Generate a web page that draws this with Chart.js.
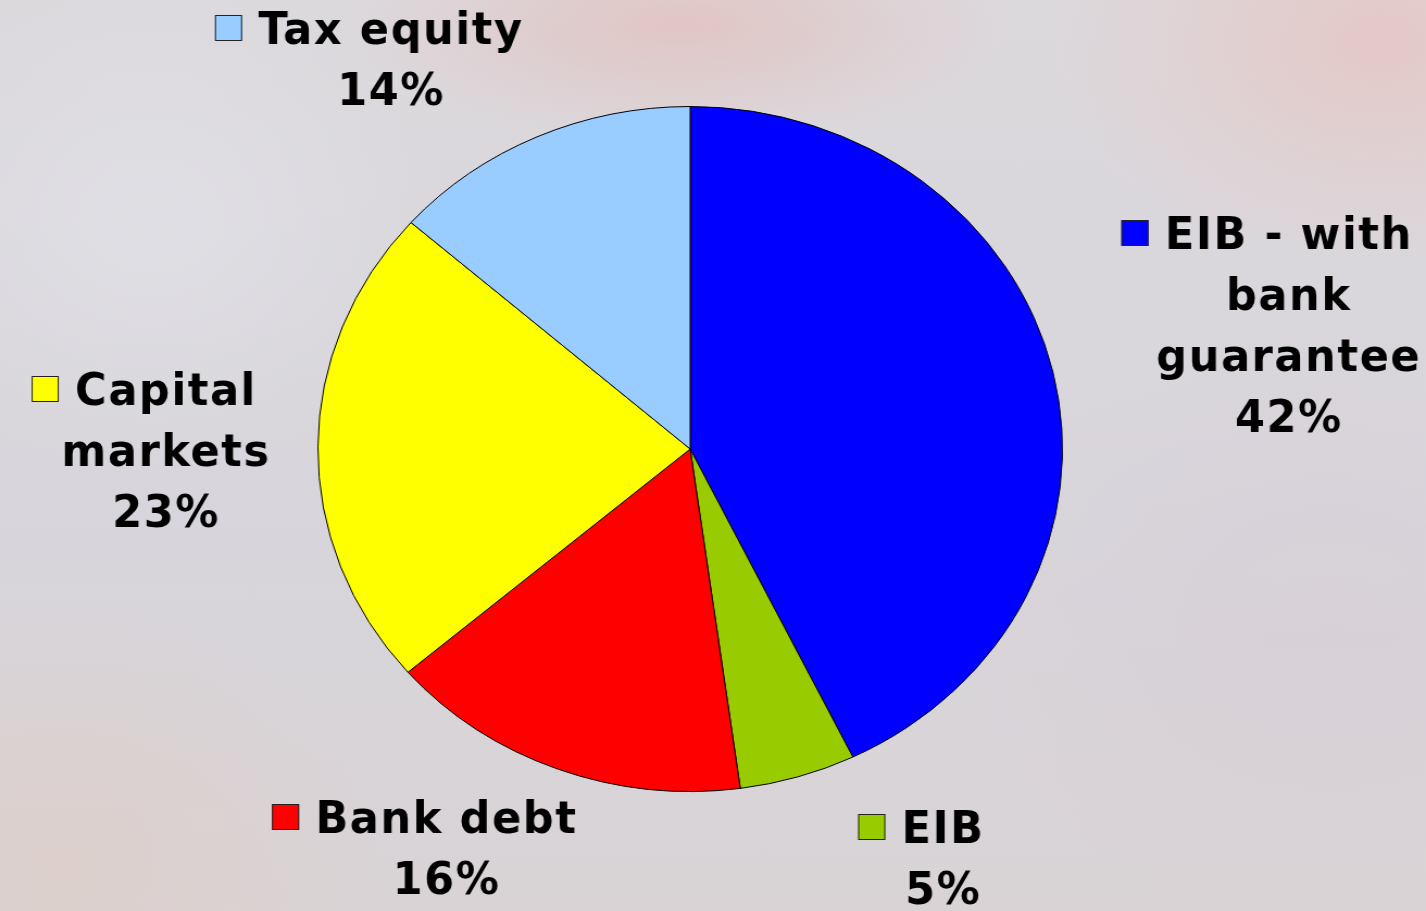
<!DOCTYPE html>
<html>
<head>
<meta charset="utf-8">
<script src="https://cdn.jsdelivr.net/npm/chart.js@4/dist/chart.umd.min.js"></script>
<style>
html,body{margin:0;padding:0;width:1426px;height:911px;overflow:hidden;}
body{
  background-color:#d9d6dc;
  background-image:
    radial-gradient(ellipse 330px 120px at 680px 25px, rgba(226,192,190,0.8), rgba(226,192,190,0)),
    radial-gradient(ellipse 330px 230px at 1380px 40px, rgba(230,198,196,0.85), rgba(230,198,196,0)),
    radial-gradient(ellipse 320px 260px at 60px 860px, rgba(222,206,200,0.7), rgba(222,206,200,0)),
    radial-gradient(ellipse 380px 300px at 1330px 620px, rgba(216,206,214,0.6), rgba(216,206,214,0)),
    radial-gradient(ellipse 300px 250px at 150px 220px, rgba(226,226,232,0.7), rgba(226,226,232,0)),
    linear-gradient(180deg, #dcd9dd 0%, #d7d5db 60%, #d9d3d5 100%);
}
#c{display:block;}
</style>
</head>
<body>
<canvas id="c" width="1312" height="911" style="width:1426px;height:911px"></canvas>
<script>
// ---- data ----
const categories = ['EIB - with bank guarantee', 'EIB', 'Bank debt', 'Capital markets', 'Tax equity'];
const shares = [42.8, 5.05, 15.85, 22.8, 13.5];
const percentLabels = ['42%', '5%', '16%', '23%', '14%'];
const labelLines = [['EIB - with', 'bank', 'guarantee'], ['EIB'], ['Bank debt'], ['Capital', 'markets'], ['Tax equity']];

// ---- styles / layout ----
const sliceColors = ['#0000FF', '#99CC00', '#FF0000', '#FFFF00', '#99CCFF'];
const labelAnchors = [ // text centre x, first baseline y (canvas units)
  {x: 1185, y: 249},
  {x: 867, y: 843},
  {x: 410, y: 833},
  {x: 152, y: 405},
  {x: 359, y: 44}
];
const LINE_H = 61;
const KEY_W = 25, KEY_H = 26, KEY_GAP = 15;
const FONT = 'bold 44px "DejaVu Sans Condensed", "DejaVu Sans", sans-serif';
const SPACING = 1.5;

const sliceLabels = {
  id: 'sliceLabels',
  afterDatasetsDraw(chart) {
    const ctx = chart.ctx;
    const meta = chart.getDatasetMeta(0);
    ctx.save();
    ctx.font = FONT;
    ctx.letterSpacing = SPACING + 'px';
    ctx.textAlign = 'left';
    ctx.textBaseline = 'alphabetic';
    meta.data.forEach((arc, i) => {
      const a = labelAnchors[i];
      const lines = labelLines[i].concat([percentLabels[i]]);
      ctx.fillStyle = '#000';
      let firstLeft = 0;
      lines.forEach((t, k) => {
        const w = ctx.measureText(t).width - SPACING;
        const left = a.x - w / 2;
        if (k === 0) firstLeft = left;
        ctx.fillText(t, left, a.y + k * LINE_H);
      });
      const kx = firstLeft - KEY_GAP - KEY_W;
      const ky = a.y - 29;
      ctx.fillStyle = arc.options.backgroundColor;
      ctx.fillRect(kx, ky, KEY_W, KEY_H);
      ctx.lineWidth = 1;
      ctx.strokeStyle = '#222';
      ctx.strokeRect(kx + 0.5, ky + 0.5, KEY_W - 1, KEY_H - 1);
    });
    ctx.restore();
  }
};

new Chart(document.getElementById('c'), {
  type: 'pie',
  data: {
    labels: categories,
    datasets: [{
      data: shares,
      backgroundColor: sliceColors,
      borderColor: '#000',
      borderWidth: 1,
      hoverOffset: 0,
      offset: 0
    }]
  },
  options: {
    responsive: false,
    devicePixelRatio: 1,
    animation: false,
    events: [],
    layout: {padding: {left: 292, right: 334, top: 106, bottom: 119}},
    plugins: {legend: {display: false}, tooltip: {enabled: false}}
  },
  plugins: [sliceLabels]
});
</script>
</body>
</html>
